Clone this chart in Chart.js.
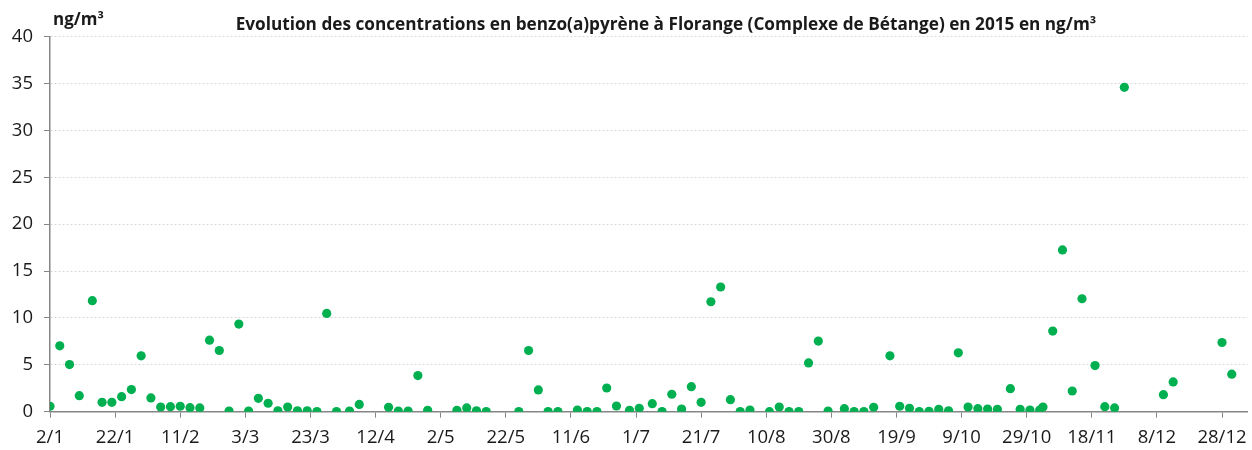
<!DOCTYPE html>
<html>
<head>
<meta charset="utf-8">
<script src="https://cdn.jsdelivr.net/npm/chart.js@4/dist/chart.umd.min.js"></script>
<style>
  html, body { margin: 0; padding: 0; background: #fff; }
  #wrap { width: 1252px; height: 450px; }
</style>
</head>
<body>
<div id="wrap"><canvas id="bapChart" width="1252" height="450"></canvas></div>
<script>
// jour de l'année 2015 de chaque prélèvement
const days = [2, 5, 8, 11, 15, 18, 21, 24, 27, 30, 33, 36, 39, 42, 45, 48, 51, 54, 57, 60,
  63, 66, 69, 72, 75, 78, 81, 84, 87, 90, 94, 97, 106, 109, 112, 115, 118, 127, 130, 133,
  136, 146, 149, 152, 155, 158, 164, 167, 170, 173, 176, 180, 183, 187, 190, 193, 196, 199, 202, 205,
  208, 211, 214, 217, 223, 226, 229, 232, 235, 238, 241, 246, 249, 252, 255, 260, 263, 266, 269, 272,
  275, 278, 281, 284, 287, 290, 293, 297, 300, 303, 306, 307, 310, 313, 316, 319, 323, 326, 329, 332,
  344, 347, 362, 365];

// concentrations en ng/m3
const concentrations = [0.58, 7.03, 5.03, 1.71, 11.84, 1.0, 1.0, 1.6, 2.36, 5.96, 1.47, 0.5, 0.54, 0.58, 0.43, 0.4, 7.63, 6.53, 0.07, 9.35,
  0.07, 1.43, 0.9, 0.1, 0.5, 0.1, 0.1, 0.02, 10.48, 0.02, 0.07, 0.78, 0.47, 0.07, 0.07, 3.85, 0.15, 0.15, 0.4, 0.1,
  0.02, 0.02, 6.53, 2.32, 0.02, 0.02, 0.18, 0.02, 0.02, 2.53, 0.61, 0.15, 0.36, 0.86, 0.02, 1.86, 0.29, 2.67, 1.0, 11.73,
  13.3, 1.28, 0.02, 0.18, 0.0, 0.5, 0.02, 0.02, 5.2, 7.53, 0.07, 0.32, 0.02, 0.02, 0.47, 5.96, 0.58, 0.36, 0.02, 0.04,
  0.26, 0.1, 6.28, 0.5, 0.32, 0.29, 0.26, 2.46, 0.26, 0.18, 0.18, 0.5, 8.6, 17.26, 2.21, 12.05, 4.92, 0.54, 0.4, 34.6,
  1.82, 3.18, 7.38, 4.0];

const tickLabels = ['2/1', '22/1', '11/2', '3/3', '23/3', '12/4', '2/5', '22/5', '11/6', '1/7',
  '21/7', '10/8', '30/8', '19/9', '9/10', '29/10', '18/11', '8/12', '28/12'];

const title = 'Evolution des concentrations en benzo(a)pyrène à Florange (Complexe de Bétange) en 2015 en ng/m³';
const unit = 'ng/m³';

const monthStart = [0, 31, 59, 90, 120, 151, 181, 212, 243, 273, 304, 334];
const tickDays = tickLabels.map(l => {
  const [d, m] = l.split('/').map(Number);
  return monthStart[m - 1] + d;
});

const axisGrey = '#868686';
const textColor = '#1a1a1a';
const font = '"Open Sans"';

const textPlugin = {
  id: 'texts',
  afterDraw(chart) {
    const ctx = chart.ctx;
    ctx.save();
    ctx.fillStyle = textColor;
    ctx.textBaseline = 'alphabetic';
    ctx.font = `bold 17.2px ${font}`;
    ctx.textAlign = 'center';
    ctx.fillText(title, 666, 29.5);
    ctx.font = `bold 17px ${font}`;
    ctx.textAlign = 'left';
    ctx.fillText(unit, 53, 25);
    ctx.restore();
  }
};

new Chart(document.getElementById('bapChart').getContext('2d'), {
  type: 'scatter',
  data: {
    datasets: [{
      label: 'BaP',
      data: days.map((d, i) => ({ x: d, y: concentrations[i] })),
      backgroundColor: '#00b050',
      borderWidth: 0,
      pointRadius: 4.6,
      pointHoverRadius: 4.6,
    }],
  },
  options: {
    responsive: false,
    animation: false,
    layout: { padding: { top: 36.7, right: 2, left: 0, bottom: 0 } },
    plugins: {
      legend: { display: false },
      title: { display: false },
      tooltip: { enabled: false },
    },
    scales: {
      x: {
        type: 'linear',
        min: 2,
        max: 369.8,
        afterBuildTicks: scale => { scale.ticks = tickDays.map(v => ({ value: v })); },
        afterFit: scale => {
          scale.height = 38.3;
          scale.paddingLeft = 0;
          scale.paddingRight = 0;
        },
        grid: { drawOnChartArea: false, drawTicks: true, tickLength: 6, tickColor: axisGrey },
        border: { color: axisGrey, width: 1.5 },
        ticks: {
          autoSkip: false,
          maxRotation: 0,
          padding: 8.5,
          color: textColor,
          font: { family: font, size: 18.5 },
          callback: (v, i) => tickLabels[i],
        },
      },
      y: {
        min: 0,
        max: 40,
        afterFit: scale => { scale.width = 50; },
        grid: { color: '#d9d9d9', lineWidth: 1, tickLength: 6, tickColor: axisGrey, tickBorderDash: [] },
        border: { color: axisGrey, width: 1.5, dash: [2, 2] },
        ticks: {
          stepSize: 5,
          padding: 11,
          color: textColor,
          font: { family: font, size: 18.5 },
        },
      },
    },
  },
  plugins: [textPlugin],
});
</script>
</body>
</html>
